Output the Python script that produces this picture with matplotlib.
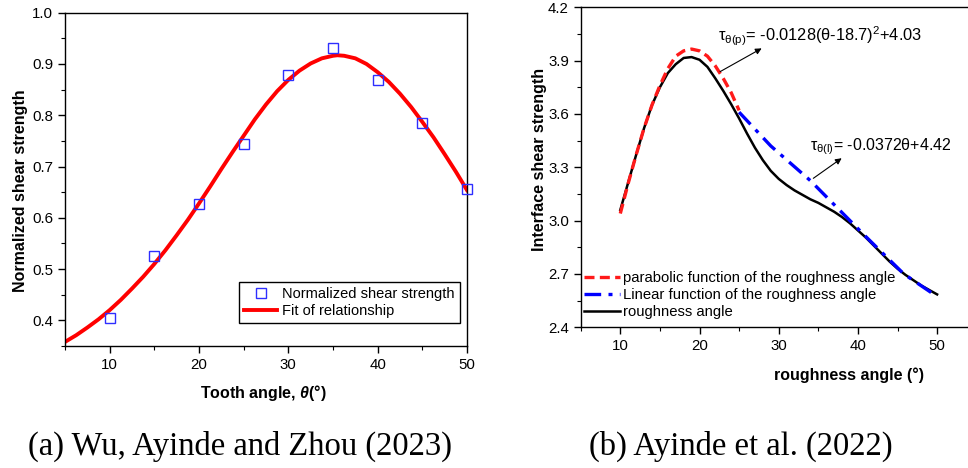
import matplotlib
matplotlib.use('Agg')
import matplotlib.pyplot as plt
from matplotlib.ticker import MultipleLocator, FormatStrFormatter

plt.rcParams['font.family'] = ['Liberation Sans', 'DejaVu Sans']
plt.rcParams['mathtext.fontset'] = 'custom'
plt.rcParams['mathtext.rm'] = 'Liberation Sans'
plt.rcParams['mathtext.it'] = 'Liberation Sans:italic:bold'
plt.rcParams['mathtext.bf'] = 'Liberation Sans:bold'

# (a) tooth angle tests
tooth_angle = [10, 15, 20, 25, 30, 35, 40, 45, 50]
norm_strength = [0.405, 0.525, 0.626, 0.743, 0.878, 0.932, 0.868, 0.785, 0.657]

fit_angle = [5, 6.25, 7.5, 8.75, 10, 11.25, 12.5, 13.75, 15, 16.25, 17.5, 18.75,
             20, 21.25, 22.5, 23.75, 25, 26.25, 27.5, 28.75, 30, 31.25, 32.5,
             33.75, 35, 35.5, 36.25, 37.5, 38.75, 40, 41.25, 42.5, 43.75, 45,
             46.25, 47.5, 48.75, 50]
fit_strength = [0.358, 0.371, 0.386, 0.402, 0.420, 0.440, 0.462, 0.485, 0.510,
                0.537, 0.566, 0.596, 0.628, 0.661, 0.695, 0.728, 0.760, 0.792,
                0.821, 0.847, 0.869, 0.887, 0.901, 0.911, 0.916, 0.917, 0.916,
                0.911, 0.900, 0.884, 0.865, 0.842, 0.816, 0.787, 0.757, 0.724,
                0.690, 0.654]

# (b) roughness angle tests
rough_angle = [10, 11, 12, 13, 14, 15, 16, 17, 18, 19, 20, 21, 22, 23, 24, 25,
               26, 27, 28, 29, 30, 31, 32, 33, 34, 35, 36, 37, 38, 39, 40, 41,
               42, 43, 44, 45, 46, 47, 48, 49, 50]
rough_strength = [3.06, 3.215, 3.37, 3.52, 3.65, 3.75, 3.83, 3.88, 3.915, 3.92,
                  3.905, 3.865, 3.80, 3.73, 3.655, 3.575, 3.49, 3.41, 3.34, 3.28,
                  3.235, 3.20, 3.17, 3.145, 3.12, 3.10, 3.075, 3.05, 3.02, 2.985,
                  2.945, 2.905, 2.86, 2.815, 2.77, 2.73, 2.695, 2.665, 2.635,
                  2.61, 2.585]

parab_angle = [10, 11, 12, 13, 14, 15, 16, 17, 18, 19, 20, 21, 22, 23, 24, 25]
parab_strength = [3.04, 3.21, 3.37, 3.52, 3.65, 3.76, 3.855, 3.925, 3.955, 3.965,
                  3.955, 3.925, 3.87, 3.80, 3.72, 3.62]

lin_angle = [25, 29, 34, 41, 45.8, 50]
lin_strength = [3.61, 3.42, 3.225, 2.91, 2.70, 2.573]

W, H = 968, 468
fig = plt.figure(figsize=(W / 100, H / 100), dpi=100)

def px_axes(x0, y0, x1, y1):
    return fig.add_axes([x0 / W, 1 - y1 / H, (x1 - x0) / W, (y1 - y0) / H])

def style_axes(ax):
    for s in ax.spines.values():
        s.set_linewidth(1.0)
    ax.tick_params(which='both', direction='out', top=False, right=False,
                   labelsize=10.8)
    ax.tick_params(which='major', length=5, width=1.0)
    ax.tick_params(which='minor', length=3, width=0.8)

# ---- panel (a)
ax1 = px_axes(65, 12.7, 467, 346)
ax1.plot(fit_angle, fit_strength, color='#ff0000', lw=2.8, zorder=2,
         label='Fit of relationship')
ax1.plot(tooth_angle, norm_strength, 's', mfc='none', mec='#2e2eff', ms=6.5,
         mew=1.0, zorder=3, clip_on=False, label='Normalized shear strength')
ax1.set_xlim(5, 50)
ax1.set_ylim(0.35, 1.0)
ax1.xaxis.set_major_locator(MultipleLocator(10))
ax1.xaxis.set_minor_locator(MultipleLocator(5))
ax1.yaxis.set_major_locator(MultipleLocator(0.1))
ax1.yaxis.set_minor_locator(MultipleLocator(0.05))
ax1.yaxis.set_major_formatter(FormatStrFormatter('%.1f'))
style_axes(ax1)
ax1.set_xlabel('Tooth angle, $\\theta$(°)', fontweight='bold', fontsize=11.5)
ax1.set_ylabel('Normalized shear strength', fontweight='bold', fontsize=11.5)
ax1.xaxis.set_label_coords((263 - 65) / 402, -(383 - 346) / 333.3)
ax1.yaxis.set_label_coords((28 - 65) / 402, (346 - 191) / 333.3)

h, l = ax1.get_legend_handles_labels()
ax1.legend(h[::-1], l[::-1], loc='lower right',
           bbox_to_anchor=(460 / W, 1 - 323.3 / H), bbox_transform=fig.transFigure,
           borderaxespad=0, fancybox=False, edgecolor='black', framealpha=1,
           fontsize=10.5, numpoints=1, handlelength=2.3, handletextpad=0.35,
           labelspacing=0.2, borderpad=0.35)

# ---- panel (b)
ax2 = px_axes(580.7, 7.3, 976.7, 327.3)
ax2.plot(rough_angle, rough_strength, color='black', lw=1.8, zorder=2,
         label='roughness angle')
ax2.plot(parab_angle, parab_strength, color='#ff1a1a', lw=2.4,
         linestyle=(0, (3, 1.6)), zorder=3,
         label='parabolic function of the roughness angle')
ax2.plot(lin_angle, lin_strength, color='#0000ff', lw=2.4,
         linestyle=(0, (5, 2.2, 1.2, 2.2)), zorder=3,
         label='Linear function of the roughness angle')
ax2.set_xlim(5, 55)
ax2.set_ylim(2.4, 4.2)
ax2.xaxis.set_major_locator(MultipleLocator(10))
ax2.xaxis.set_minor_locator(MultipleLocator(5))
ax2.yaxis.set_major_locator(MultipleLocator(0.3))
ax2.yaxis.set_minor_locator(MultipleLocator(0.15))
ax2.yaxis.set_major_formatter(FormatStrFormatter('%.1f'))
ax2.set_xticks([10, 20, 30, 40, 50])
style_axes(ax2)
ax2.set_xlabel('roughness angle (°)', fontweight='bold', fontsize=11.5)
ax2.set_ylabel('Interface shear strength', fontweight='bold', fontsize=11.5)
ax2.xaxis.set_label_coords((849 - 580.7) / 396, -(367 - 327.3) / 320)
ax2.yaxis.set_label_coords((547 - 580.7) / 396, (327.3 - 159) / 320)

ax2.annotate('', xy=(27.85, 3.969), xytext=(22.6, 3.838),
             arrowprops=dict(arrowstyle='-|>', color='black', lw=0.8,
                             mutation_scale=9, shrinkA=0, shrinkB=0))
ax2.annotate('', xy=(37.95, 3.351), xytext=(34.37, 3.238),
             arrowprops=dict(arrowstyle='-|>', color='black', lw=0.8,
                             mutation_scale=9, shrinkA=0, shrinkB=0))
ax2.text(22.34, 4.007, '$\\mathregular{τ_{θ(p)}}$= -0.0128(θ-18.7)$\\mathregular{^2}$+4.03',
         fontsize=11.8, va='baseline', ha='left')
ax2.text(33.95, 3.397, '$\\mathregular{τ_{θ(l)}}$= -0.0372θ+4.42',
         fontsize=11.5, va='baseline', ha='left')

h, l = ax2.get_legend_handles_labels()
ax2.legend([h[1], h[2], h[0]], [l[1], l[2], l[0]], loc='upper left',
           bbox_to_anchor=(584 / W, 1 - 271 / H), bbox_transform=fig.transFigure,
           frameon=False, borderaxespad=0, borderpad=0, fontsize=10.7,
           handlelength=2.4, handletextpad=0.2, labelspacing=0.2)

# captions
fig.text(240 / W, 1 - 455 / H, '(a) Wu, Ayinde and Zhou (2023)', ha='center',
         va='baseline', family='Liberation Serif', fontsize=23.5)
fig.text(741 / W, 1 - 455 / H, '(b) Ayinde et al. (2022)', ha='center',
         va='baseline', family='Liberation Serif', fontsize=23.5)

fig.savefig('out.png', dpi=100)
